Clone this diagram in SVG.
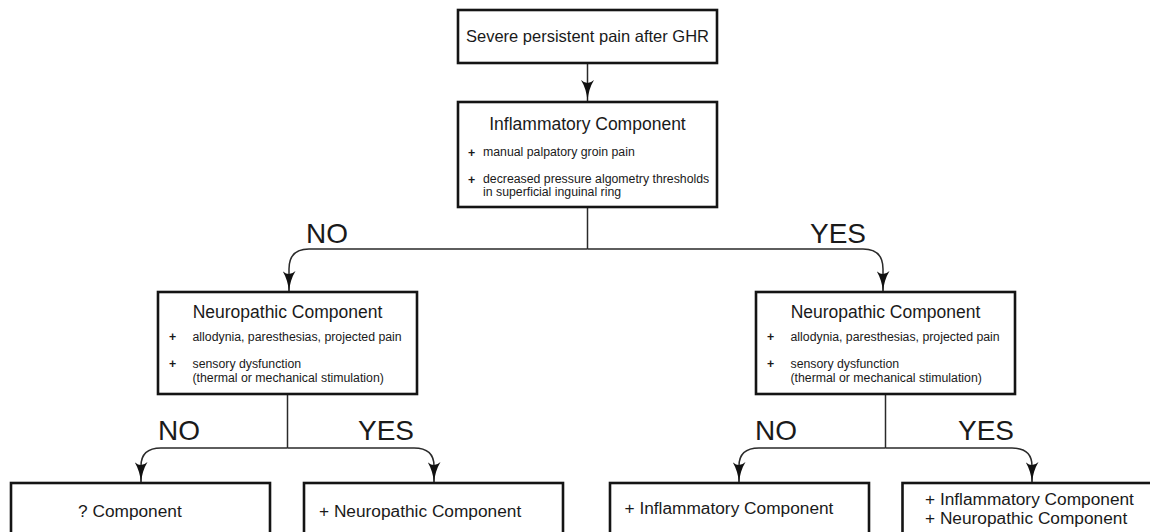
<svg xmlns="http://www.w3.org/2000/svg" width="1150" height="532" viewBox="0 0 1150 532">
<style>
.box{fill:#fff;stroke:#141414;stroke-width:2.6}
.t{font-family:"Liberation Sans",Arial,sans-serif;fill:#1a1a1a}
.title{font-size:17.5px}
.small{font-size:12.3px}
.plus{font-size:12.3px;font-weight:bold}
.lab{font-size:28px}
.res{font-size:17.3px}
.con{fill:none;stroke:#2a2a2a;stroke-width:1.5}
</style>
<defs>
<marker id="ah" viewBox="0 0 21 13" refX="21" refY="6.5" markerWidth="21" markerHeight="13" markerUnits="userSpaceOnUse" orient="auto">
<path d="M21,6.5 Q9,7.5 0,13 Q6,6.5 0,0 Q9,5.5 21,6.5 Z" fill="#111"/>
</marker>
</defs>
<rect width="1150" height="532" fill="#fff"/>
<g id="connectors">
<path class="con" d="M587.5,63 V101" marker-end="url(#ah)"/>
<path class="con" d="M587.5,207 V249"/>
<path class="con" d="M587.5,249 H309 Q289,249 289,269 V292" marker-end="url(#ah)"/>
<path class="con" d="M587.5,249 H863 Q883,249 883,269 V292" marker-end="url(#ah)"/>
<path class="con" d="M287.5,394 V448"/>
<path class="con" d="M287.5,448 H161 Q141,448 141,466 V483" marker-end="url(#ah)"/>
<path class="con" d="M287.5,448 H414 Q434,448 434,466 V483" marker-end="url(#ah)"/>
<path class="con" d="M885.5,394 V448"/>
<path class="con" d="M885.5,448 H759 Q739,448 739,466 V483" marker-end="url(#ah)"/>
<path class="con" d="M885.5,448 H1012 Q1032,448 1032,466 V483" marker-end="url(#ah)"/>
<text class="t lab" x="306" y="243">NO</text>
<text class="t lab" x="810" y="243">YES</text>
<text class="t lab" x="158" y="440">NO</text>
<text class="t lab" x="358" y="440">YES</text>
<text class="t lab" x="755" y="440">NO</text>
<text class="t lab" x="958" y="440">YES</text>
</g>
<g id="start">
<rect class="box" x="458" y="10" width="259" height="53"/>
<text class="t" x="587.5" y="42" text-anchor="middle" font-size="16.5">Severe persistent pain after GHR</text>
</g>
<g id="inflammatory">
<rect class="box" x="458" y="102" width="259" height="105"/>
<text class="t title" x="587.5" y="130" text-anchor="middle">Inflammatory Component</text>
<text class="t plus" x="468" y="157">+</text>
<text class="t small" x="483" y="156">manual palpatory groin pain</text>
<text class="t plus" x="468" y="184">+</text>
<text class="t small" x="483" y="183">decreased pressure algometry thresholds</text>
<text class="t small" x="483" y="196">in superficial inguinal ring</text>
</g>
<g id="neuro-left">
<rect class="box" x="158" y="292" width="259" height="102"/>
<text class="t title" x="287.5" y="318" text-anchor="middle">Neuropathic Component</text>
<text class="t plus" x="169" y="341">+</text>
<text class="t small" x="192.5" y="341">allodynia, paresthesias, projected pain</text>
<text class="t plus" x="169" y="368">+</text>
<text class="t small" x="192.5" y="368">sensory dysfunction</text>
<text class="t small" x="192.5" y="382">(thermal or mechanical stimulation)</text>
</g>
<g id="neuro-right">
<rect class="box" x="756" y="292" width="259" height="102"/>
<text class="t title" x="885.5" y="318" text-anchor="middle">Neuropathic Component</text>
<text class="t plus" x="767" y="341">+</text>
<text class="t small" x="790.5" y="341">allodynia, paresthesias, projected pain</text>
<text class="t plus" x="767" y="368">+</text>
<text class="t small" x="790.5" y="368">sensory dysfunction</text>
<text class="t small" x="790.5" y="382">(thermal or mechanical stimulation)</text>
</g>
<g id="unknown">
<rect class="box" x="11" y="483" width="259" height="80"/>
<text class="t res" x="78" y="517">? Component</text>
</g>
<g id="neuro-only">
<rect class="box" x="304" y="483" width="259" height="80"/>
<text class="t res" x="319" y="517">+ Neuropathic Component</text>
</g>
<g id="inflam-only">
<rect class="box" x="610" y="483" width="259" height="80"/>
<text class="t res" x="624.5" y="514">+ Inflammatory Component</text>
</g>
<g id="both">
<rect class="box" x="902.5" y="483" width="259" height="80"/>
<text class="t res" x="925" y="505">+ Inflammatory Component</text>
<text class="t res" x="925" y="524">+ Neuropathic Component</text>
</g>
</svg>
